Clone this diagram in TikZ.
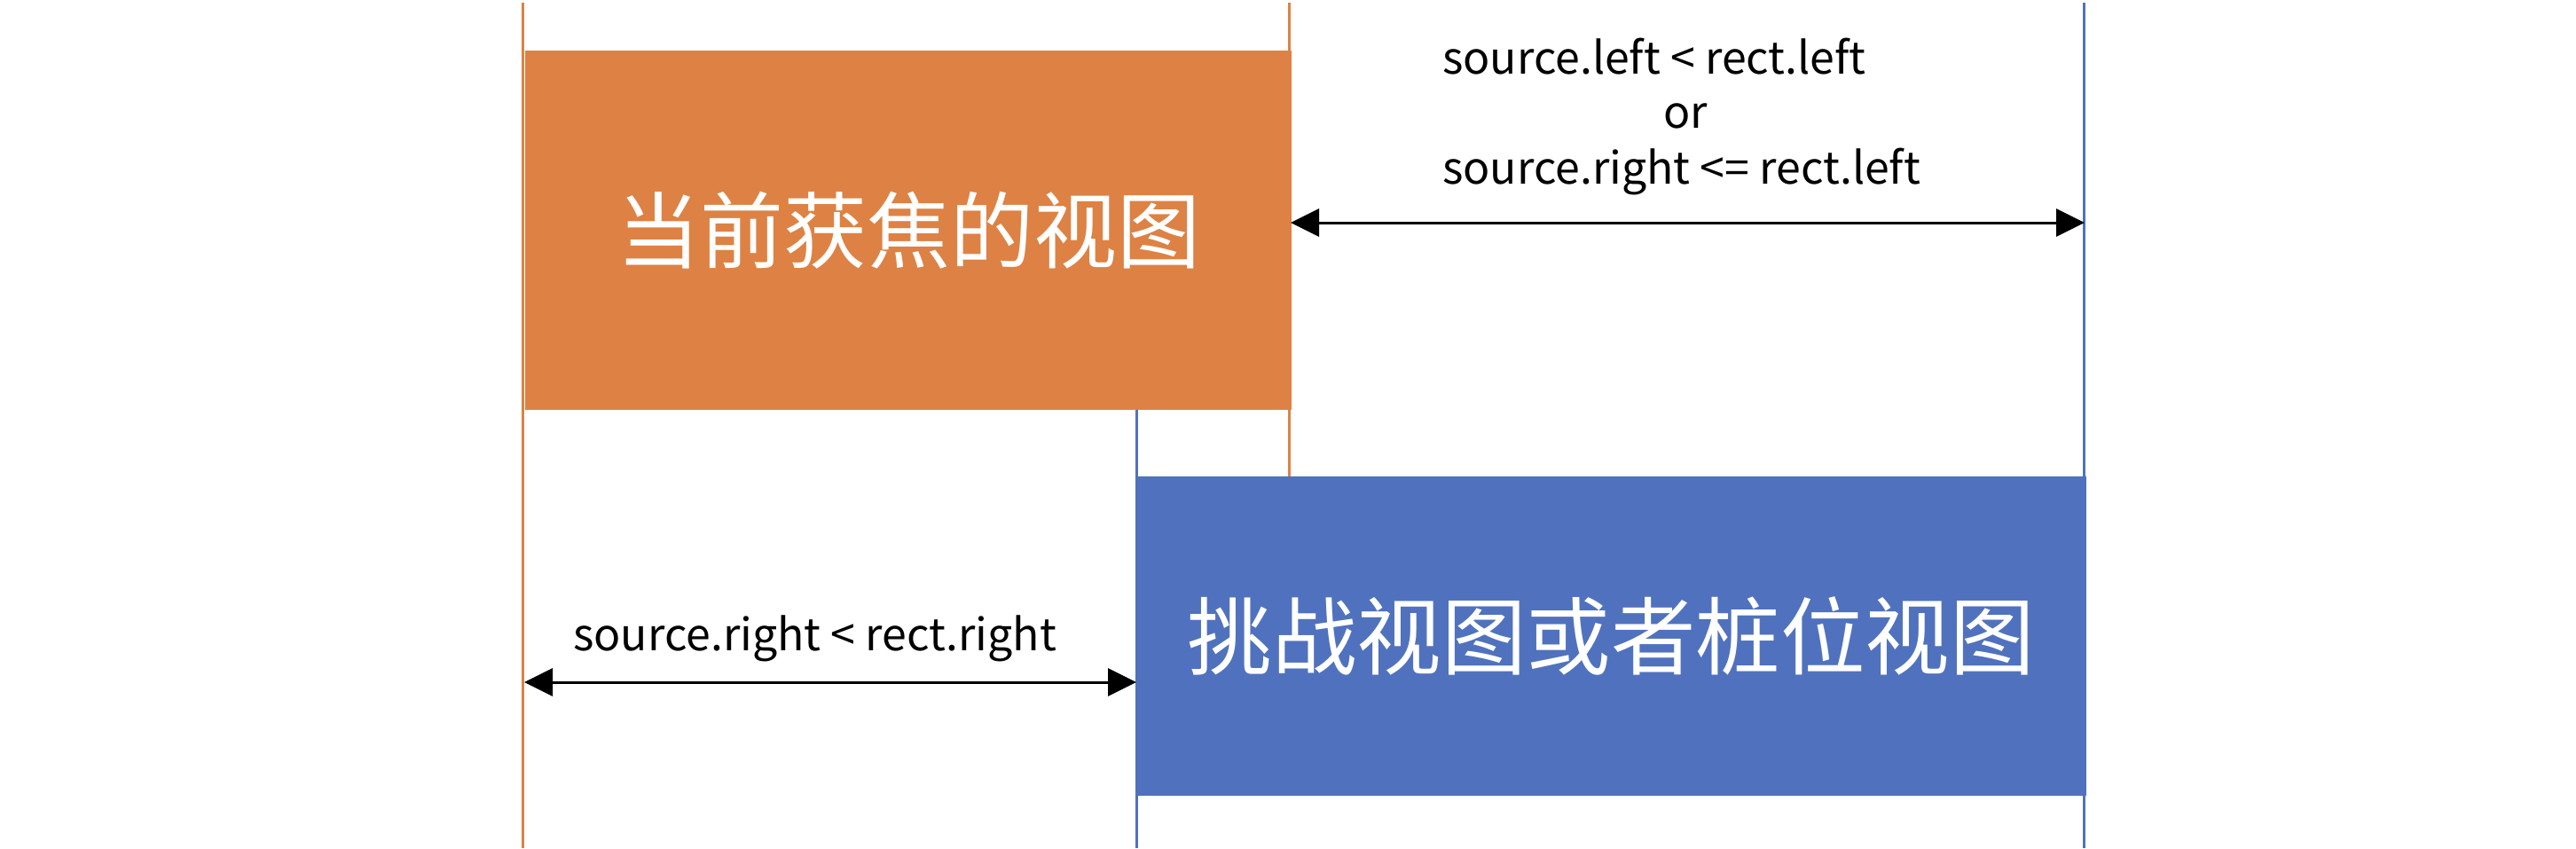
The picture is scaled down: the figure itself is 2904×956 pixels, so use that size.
\documentclass[tikz,border=0pt]{standalone}
\usepackage{fontspec}
\setmainfont{Noto Sans CJK SC}
\newfontfamily\cjk{Noto Sans CJK SC}
\usetikzlibrary{arrows.meta}
\definecolor{orangefill}{RGB}{221,130,68}
\definecolor{bluefill}{RGB}{80,114,190}
\tikzset{
  vline/.style={line width=3pt},
  boxnode/.style={inner sep=0pt, anchor=north west, text=white},
  arr/.style={line width=3pt, {Triangle[length=32pt,width=31pt]}-{Triangle[length=32pt,width=31pt]}, shorten <=-1pt, shorten >=-1pt},
  lbl/.style={inner sep=0pt, font=\fontsize{50}{56}\selectfont}
}
\begin{document}
\begin{tikzpicture}[x=1pt,y=-1pt]
\useasboundingbox (0,0) rectangle (2904,956);
% vertical guide lines
\coordinate (ol1) at (589.5,3);
\coordinate (ol2) at (589.5,956);
\coordinate (or1) at (1453.5,3);
\coordinate (or2) at (1453.5,539);
\coordinate (bl1) at (1281.5,462);
\coordinate (bl2) at (1281.5,956);
\coordinate (br1) at (2349.5,3);
\coordinate (br2) at (2349.5,956);
\draw[vline, orangefill] (ol1) -- (ol2);
\draw[vline, orangefill] (or1) -- (or2);
\draw[vline, bluefill] (bl1) -- (bl2);
\draw[vline, bluefill] (br1) -- (br2);
% boxes
\node[boxnode, fill=orangefill, minimum width=864pt, minimum height=405pt] (focus) at (592,57) {};
\node[text=white, inner sep=0pt, font=\fontsize{94}{100}\selectfont\cjk] (focustext) at (focus.center) {当前获焦的视图};
\node[boxnode, fill=bluefill, minimum width=1072pt, minimum height=360pt] (cand) at (1280,537) {};
\node[text=white, inner sep=0pt, font=\fontsize{95.5}{100}\selectfont\cjk] (candtext) at (cand.center) {挑战视图或者桩位视图};
% arrows
\coordinate (ta) at (1456,251);
\coordinate (tb) at (2349,251);
\draw[arr] (ta) -- (tb);
\coordinate (ba) at (592,769);
\coordinate (bb) at (1280,769);
\draw[arr] (ba) -- (bb);
% labels
\node[lbl, anchor=west] (t1) at (1626,64) {source.left < rect.left};
\node[lbl] (t2) at (1900,131) {or};
\node[lbl, anchor=west] (t3) at (1626,194) {source.right <= rect.left};
\node[lbl, anchor=west] (b1) at (646,720) {source.right < rect.right};
\end{tikzpicture}
\end{document}
